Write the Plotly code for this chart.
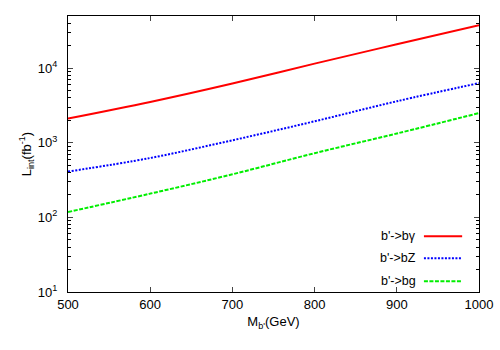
import plotly.graph_objects as go

mass = [500, 600, 700, 800, 900, 1000]
lum_bgamma = [2110, 3520, 6220, 11500, 20900, 37600]
lum_bZ = [411, 625, 1080, 1940, 3600, 6300]
lum_bg = [118, 208, 378, 725, 1330, 2500]

series_names = ["b'->bγ", "b'->bZ", "b'->bg"]
series_vals = [lum_bgamma, lum_bZ, lum_bg]
colors = ["#ff0000", "#0000ff", "#00ee00"]
dashes = ["solid", "2px,1.5px", "4px,1.5px"]

ytickvals = [10, 100, 1000, 10000]
yticktext = ["10<sup>1</sup>", "10<sup>2</sup>", "10<sup>3</sup>", "10<sup>4</sup>"]
xtickvals = [500, 600, 700, 800, 900, 1000]

font = "Liberation Sans, Arial, Helvetica, sans-serif"

fig = go.Figure()
for name, vals, c, d in zip(series_names, series_vals, colors, dashes):
    fig.add_trace(go.Scatter(x=mass, y=vals, mode="lines", name=name,
                             line=dict(color=c, width=2, dash=d, shape="spline"),
                             showlegend=False))

# legend (gnuplot-style: text then sample on the right)
rows_y = [0.202, 0.122, 0.039]
for name, c, d, yy in zip(series_names, colors, dashes, rows_y):
    fig.add_annotation(x=0.852, y=yy, xref="paper", yref="paper", text=name,
                       showarrow=False, xanchor="right", yanchor="middle",
                       font=dict(family=font, size=12.5, color="black"))
    fig.add_shape(type="line", xref="paper", yref="paper",
                  x0=0.866, x1=0.959, y0=yy, y1=yy,
                  line=dict(color=c, width=2, dash=d))

fig.update_layout(
    width=500, height=350,
    margin=dict(l=68, r=21, t=16, b=58, autoexpand=False),
    paper_bgcolor="white", plot_bgcolor="white",
    font=dict(family=font, size=13, color="black"),
    xaxis=dict(range=[500, 1000], tickvals=xtickvals, ticks="inside", ticklen=5,
               showline=True, linecolor="black", linewidth=1, mirror="allticks",
               showgrid=False, zeroline=False, ticklabelstandoff=0,
               tickfont=dict(size=13), automargin=False,
               title=dict(text="M<sub>b'</sub>(GeV)", standoff=6,
                          font=dict(family=font, size=13))),
    yaxis=dict(type="log", range=[1, 4.699], tickvals=ytickvals, ticktext=yticktext,
               ticks="inside", ticklen=5, tickfont=dict(size=13), automargin=False,
               minor=dict(ticks="inside", ticklen=3, dtick="D1", showgrid=False,
                          tickcolor="black"),
               showline=True, linecolor="black", linewidth=1, mirror="allticks",
               showgrid=False, zeroline=False, ticklabelstandoff=7,
               title=dict(text="L<sub>int</sub>(fb<sup>-1</sup>)", standoff=3,
                          font=dict(family=font, size=13))),
)

fig.write_html("out.html", config={"displayModeBar": False},
               post_script="document.body.style.margin='0';document.body.style.overflow='hidden';")
